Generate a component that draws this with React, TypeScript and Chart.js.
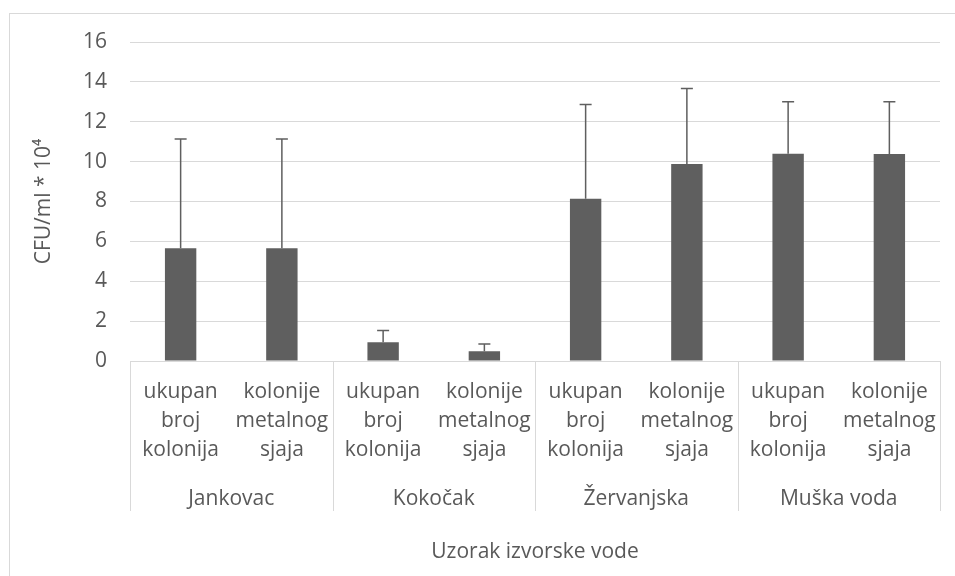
import React, { useEffect, useRef } from "react";
import { Chart, registerables } from "chart.js";

Chart.register(...registerables);

const groups = ["Jankovac", "Kokočak", "Žervanjska", "Muška voda"];
const subLabelA = ["ukupan", "broj", "kolonija"];
const subLabelB = ["kolonije", "metalnog", "sjaja"];
const values = [5.65, 5.65, 0.94, 0.49, 8.14, 9.88, 10.4, 10.38];
const errors = [5.49, 5.49, 0.59, 0.36, 4.72, 3.79, 2.6, 2.62];
const yTitle = "CFU/ml * 10⁴";
const xTitle = "Uzorak izvorske vode";

const FONT = "'Open Sans', sans-serif";
const TEXT = "#595959";
const GRID = "#d9d9d9";
const BAR = "#5f5f5f";

const labels = groups.flatMap(() => [subLabelA, subLabelB]);

const errorBars = {
  id: "errorBars",
  afterDatasetsDraw(chart: any) {
    const meta = chart.getDatasetMeta(0);
    const y = chart.scales.y;
    const ctx = chart.ctx;
    ctx.save();
    ctx.strokeStyle = BAR;
    ctx.lineWidth = 1.5;
    meta.data.forEach((el: any, i: number) => {
      const top = y.getPixelForValue(values[i] + errors[i]);
      ctx.beginPath();
      ctx.moveTo(el.x, el.y);
      ctx.lineTo(el.x, top);
      ctx.moveTo(el.x - 6, top);
      ctx.lineTo(el.x + 6, top);
      ctx.stroke();
    });
    ctx.restore();
  },
};

const frame = {
  id: "frame",
  beforeDraw(chart: any) {
    const ctx = chart.ctx;
    ctx.save();
    ctx.fillStyle = "#ffffff";
    ctx.fillRect(0, 0, chart.width, chart.height);
    ctx.strokeStyle = GRID;
    ctx.lineWidth = 1;
    ctx.strokeRect(9.5, 13.5, 3000, 3000);
    ctx.restore();
  },
  afterDraw(chart: any) {
    const x = chart.scales.x;
    const x2 = chart.scales.x2;
    const ctx = chart.ctx;
    const step = x.getPixelForValue(1) - x.getPixelForValue(0);
    ctx.save();
    ctx.strokeStyle = GRID;
    ctx.lineWidth = 1;
    for (let i = 0; i <= labels.length; i += 2) {
      const px = Math.round(x.getPixelForValue(i) - step / 2) + 0.5;
      ctx.beginPath();
      ctx.moveTo(px, chart.chartArea.bottom);
      ctx.lineTo(px, x2.top + 33);
      ctx.stroke();
    }
    ctx.restore();
  },
};

export default function App() {
  const ref = useRef<HTMLCanvasElement>(null);
  useEffect(() => {
    document.body.style.margin = "0";
    const chart = new Chart(ref.current!, {
      type: "bar",
      data: {
        labels,
        datasets: [
          {
            data: values,
            backgroundColor: BAR,
            barPercentage: 0.31,
            categoryPercentage: 1,
          },
        ],
      },
      options: {
        animation: false,
        responsive: false,
        layout: { padding: { top: 42, right: 15, left: 0, bottom: 0 } },
        plugins: { legend: { display: false }, tooltip: { enabled: false } },
        scales: {
          y: {
            min: 0,
            max: 16,
            ticks: { stepSize: 2, color: TEXT, padding: 23, font: { family: FONT, size: 21 } },
            grid: { color: GRID, lineWidth: 1, drawTicks: false },
            border: { display: false },
            title: {
              display: true,
              text: yTitle,
              color: TEXT,
              font: { family: FONT, size: 21, lineHeight: 1.2 },
              padding: { top: 31, bottom: 31 },
            },
            afterFit: (s: any) => {
              s.width = 130;
            },
          },
          x: {
            ticks: {
              color: TEXT,
              padding: 17,
              maxRotation: 0,
              autoSkip: false,
              font: { family: FONT, size: 21, lineHeight: 1.38 },
            },
            grid: { display: false, drawTicks: false },
            border: { display: true, color: GRID, width: 1 },
            afterFit: (s: any) => {
              s.height = 117;
            },
          },
          x2: {
            type: "category",
            position: "bottom",
            labels: groups,
            offset: true,
            ticks: {
              color: TEXT,
              padding: 8,
              maxRotation: 0,
              autoSkip: false,
              font: { family: FONT, size: 21, lineHeight: 1.2 },
            },
            grid: { display: false, drawTicks: false },
            border: { display: false },
            title: {
              display: true,
              text: xTitle,
              color: TEXT,
              font: { family: FONT, size: 21, lineHeight: 1.2 },
              padding: { top: 11, bottom: 11 },
            },
            afterFit: (s: any) => {
              s.height = 98;
            },
          },
        },
      } as any,
      plugins: [frame, errorBars],
    });
    return () => chart.destroy();
  }, []);
  return <canvas ref={ref} width={955} height={576} />;
}
